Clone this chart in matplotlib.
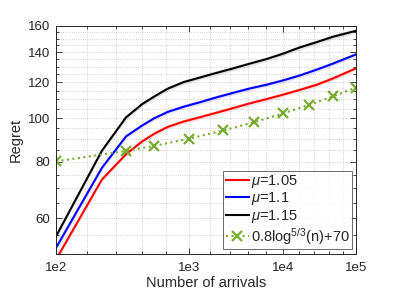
import numpy as np
import matplotlib
matplotlib.use("Agg")
import matplotlib.pyplot as plt
from matplotlib.ticker import FixedLocator, FixedFormatter, NullFormatter

plt.rcParams['font.family'] = ['Liberation Sans', 'DejaVu Sans']
plt.rcParams['mathtext.fontset'] = 'custom'
plt.rcParams['mathtext.rm'] = 'Liberation Sans'
plt.rcParams['mathtext.it'] = 'Liberation Sans:italic'

# ---- data ----
n_curve = [100, 200, 300, 400, 500, 650, 900, 1300, 1850, 2700, 4100, 6400,
           10000, 16000, 27000, 46000, 100000]
regret_105 = [48.6, 73.1, 83.2, 88.8, 92.3, 95.6, 98.3, 100.6, 102.8, 105.2,
              107.8, 110.2, 112.7, 115.4, 118.5, 122.5, 128.9]
regret_110 = [51.6, 77.6, 91.1, 96.3, 99.9, 103.2, 106.0, 108.6, 111.2, 113.7,
              116.3, 118.6, 121.2, 124.2, 128.0, 132.1, 138.4]
regret_115 = [54.7, 84.7, 100.4, 107.4, 111.6, 116.2, 120.2, 123.2, 126.0, 128.8,
              132.0, 135.2, 138.9, 143.3, 147.3, 151.5, 156.1]
n_bound = [100, 300, 500, 1000, 2154, 4642, 10000, 21544, 46416, 100000]
bound = [80.2, 84.6, 86.8, 90.0, 93.9, 98.0, 102.4, 107.0, 111.8, 116.9]

series_labels = [r'$\mu$=1.05', r'$\mu$=1.1', r'$\mu$=1.15']
bound_label = r'0.8log$^{5/3}$(n)+70'

x_ticks = [1e2, 1e3, 1e4, 1e5]
x_tick_labels = ['1e2', '1e3', '1e4', '1e5']
x_minor_exp = [2.2, 2.4, 2.6, 2.8, 3.2, 3.4, 3.6, 3.8, 4.2, 4.4, 4.6, 4.8]
y_ticks = [60, 80, 100, 120, 140, 160]
y_minor = [50, 55, 65, 70, 75, 85, 90, 95, 105, 110, 115, 125, 130, 135, 145, 150, 155]

# ---- figure ----
fig = plt.figure(figsize=(3.99, 2.99), dpi=100)
ax = fig.add_axes([56/399, 1-254/299, 300/399, 228/299])


def fwd(v):
    v = np.asarray(v, dtype=float)
    with np.errstate(all='ignore'):
        return np.log(np.log10(v))


def inv(v):
    v = np.asarray(v, dtype=float)
    with np.errstate(all='ignore'):
        return 10 ** np.exp(v)


ax.set_xscale('function', functions=(fwd, inv))
ax.set_yscale('log')

colors = ['#ff0000', '#0000ff', '#000000']
for vals, c, lab in zip([regret_105, regret_110, regret_115], colors, series_labels):
    v = np.array(vals)
    ax.fill_between(n_curve, v * 0.988, v * 1.012, color=c, alpha=0.1, lw=0)
    ax.plot(n_curve, vals, color=c, lw=1.5, label=lab)

ax.plot(n_bound, bound, color='#77ac30', lw=1.5, ls=':', marker='x',
        ms=6.5, mew=1.6, label=bound_label)

ax.set_xlim(100, 1e5)
ax.set_ylim(50, 160)
ax.xaxis.set_major_locator(FixedLocator(x_ticks))
ax.xaxis.set_major_formatter(FixedFormatter(x_tick_labels))
ax.xaxis.set_minor_locator(FixedLocator([10 ** e for e in x_minor_exp]))
ax.xaxis.set_minor_formatter(NullFormatter())
ax.yaxis.set_major_locator(FixedLocator(y_ticks))
ax.yaxis.set_major_formatter(FixedFormatter([str(t) for t in y_ticks]))
ax.yaxis.set_minor_locator(FixedLocator(y_minor))
ax.yaxis.set_minor_formatter(NullFormatter())

dark = '#262626'
ax.tick_params(which='both', direction='in', top=True, right=True,
               color=dark, width=0.6, labelcolor=dark, labelsize=9.5)
ax.tick_params(which='major', length=4)
ax.tick_params(which='minor', length=2)
ax.tick_params(axis='x', pad=5.5)
ax.tick_params(axis='y', pad=4)
for s in ax.spines.values():
    s.set_color(dark)
    s.set_linewidth(0.7)

ax.grid(True, which='both', ls=':', color='#c4c4c4', lw=0.6)
ax.set_axisbelow(True)

ax.set_xlabel('Number of arrivals', fontsize=10.5, color=dark, labelpad=2)
ax.set_ylabel('Regret', fontsize=10.5, color=dark, labelpad=4)

leg = ax.legend(loc='lower right', bbox_to_anchor=(0.987, 0.022), borderaxespad=0,
                fontsize=10.5, frameon=True, fancybox=False, handlelength=1.6,
                handletextpad=0.15, labelspacing=0.05, borderpad=0.15)
leg.get_frame().set_edgecolor(dark)
leg.get_frame().set_linewidth(0.6)
for t in leg.get_texts():
    t.set_color(dark)

fig.savefig('out.png', dpi=100)
